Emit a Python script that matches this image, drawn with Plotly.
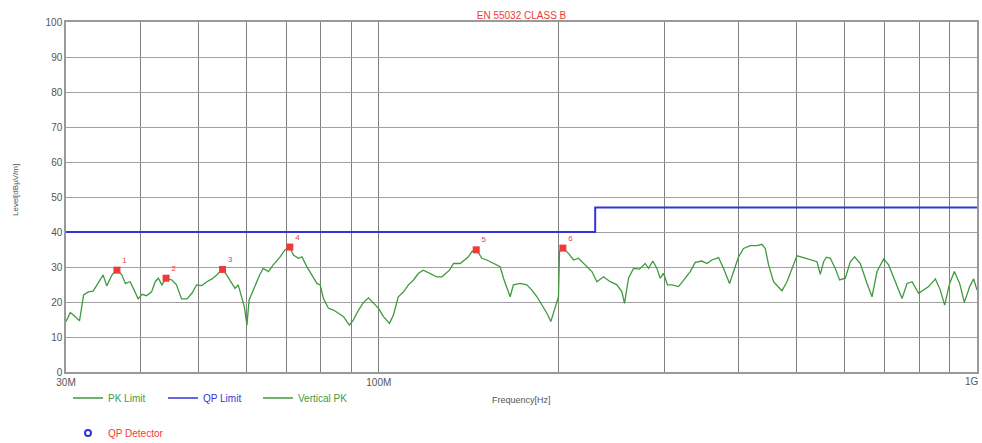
import plotly.graph_objects as go

# ---------------- data ----------------
freq_mhz = [30.0, 30.5, 31.1, 31.6, 32.1, 32.7, 33.3, 34.0, 34.6, 35.1, 35.8, 36.5, 37.2, 37.7, 38.4, 39.0,
            39.6, 40.2, 40.9, 41.7, 42.3, 42.8, 43.4, 44.1, 45.1, 45.9, 46.8, 47.8, 48.7, 49.6, 50.6, 51.6,
            52.6, 53.6, 54.8, 55.7, 56.8, 57.5, 58.2, 59.0, 59.6, 60.2, 60.7, 61.7, 62.5, 63.2, 64.1, 65.4,
            66.6, 68.4, 69.7, 70.9, 72.0, 73.4, 74.4, 75.8, 77.3, 78.8, 79.8, 80.8, 82.4, 84.0, 85.6, 87.3,
            89.3, 90.7, 92.5, 94.3, 96.1, 98.0, 99.9, 101.8, 104.2, 105.8, 107.8, 110.0, 112.1, 114.3, 116.5,
            118.7, 121.9, 125.0, 127.5, 131.3, 133.3, 136.8, 141.2, 143.1, 145.5, 148.7, 151.6, 155.5, 159.5,
            161.6, 163.7, 165.8, 167.9, 172.3, 176.8, 180.3, 183.8, 187.3, 191.0, 193.9, 197.2, 199.7, 200.5,
            203.1, 207.5, 211.6, 215.7, 221.3, 227.1, 231.5, 237.5, 243.7, 250.1, 254.9, 257.5, 261.5, 266.6,
            272.8, 278.8, 282.4, 287.2, 291.7, 295.4, 299.2, 303.8, 309.0, 317.0, 325.3, 331.6, 338.1, 346.9,
            353.6, 360.5, 369.8, 377.0, 385.8, 391.7, 399.4, 407.2, 417.8, 428.7, 437.0, 442.6, 448.3, 457.0,
            465.9, 472.0, 481.2, 490.6, 500.1, 513.0, 529.9, 540.2, 547.1, 554.1, 559.9, 568.6, 579.6, 589.3,
            602.3, 614.1, 624.4, 638.2, 654.9, 667.6, 680.6, 698.1, 711.7, 730.3, 749.4, 763.9, 778.8, 798.8,
            814.4, 830.2, 851.9, 868.4, 882.9, 900.1, 916.5, 935.4, 952.5, 972.2, 987.2, 1000.0]

level_db = [14.4, 17.0, 15.8, 14.6, 22.0, 22.9, 23.1, 25.8, 27.7, 24.6, 27.7, 29.3, 27.7, 25.3, 25.8, 23.4,
            20.9, 22.2, 21.8, 22.9, 25.8, 26.8, 24.9, 26.8, 26.3, 24.9, 20.9, 20.9, 22.5, 24.9, 24.7, 25.8,
            26.6, 27.7, 29.4, 27.7, 25.3, 23.9, 24.9, 21.0, 18.7, 13.4, 20.6, 23.4, 25.8, 27.7, 29.6, 28.7,
            30.6, 32.9, 34.9, 35.8, 33.4, 32.5, 32.9, 30.1, 27.7, 25.3, 24.9, 21.0, 18.2, 17.7, 16.8, 15.8,
            13.4, 14.9, 17.7, 19.9, 21.2, 19.6, 18.2, 15.8, 13.9, 16.3, 21.5, 22.9, 24.9, 26.3, 28.2,
            29.1, 28.2, 27.2, 27.2, 29.1, 31.0, 31.0, 32.9, 34.4, 35.1, 32.5, 32.0, 31.0, 30.1,
            26.8, 24.4, 21.5, 24.9, 25.3, 24.9, 23.4, 21.5, 19.1, 16.8, 14.4, 18.2, 21.5, 34.4,
            35.5, 33.9, 32.0, 32.5, 30.6, 28.7, 25.8, 27.2, 25.8, 24.9, 22.9, 19.6, 26.8, 29.6,
            29.4, 31.0, 29.6, 31.7, 29.6, 26.8, 28.2, 24.9, 24.9, 24.4, 26.8, 28.7, 31.3, 31.7,
            31.0, 32.0, 32.7, 29.6, 25.3, 28.7, 32.9, 35.3, 36.1, 36.1, 36.5, 35.3, 30.6, 25.8,
            24.4, 23.2, 25.8, 29.6, 33.2, 32.7, 32.0, 31.5, 27.9, 31.5, 32.8, 32.5, 29.6, 26.3,
            26.8, 31.5, 32.9, 31.0, 25.3, 21.5, 28.7, 32.3, 30.6, 25.8, 21.0, 25.3, 25.8, 22.5,
            23.4, 24.4, 26.6, 23.4, 19.1, 25.3, 28.7, 25.3, 19.9, 24.4, 26.6, 23.4]

qp_limit_mhz = [30, 230, 230, 1000]
qp_limit_db = [40, 40, 47, 47]

peak_mhz = [36.5, 44.1, 54.8, 71.0, 145.5, 203.1]
peak_db = [29.1, 26.8, 29.3, 35.7, 34.9, 35.4]
peak_labels = ["1", "2", "3", "4", "5", "6"]

grid_mhz = [30, 40, 50, 60, 70, 80, 90, 100, 200, 300, 400, 500, 600, 700, 800, 900, 1000]
grid_text = {30: "30M", 100: "100M"}
end_label = "1G"
y_ticks = [0, 10, 20, 30, 40, 50, 60, 70, 80, 90, 100]

# ---------------- figure ----------------
GREEN = "#3f9a3f"
BLUE = "#3434d8"
RED = "#f03a3a"
W, H = 982, 443
ML, MR, MT, MB = 66, 5, 22, 71
PH = H - MT - MB
PW = W - ML - MR

fig = go.Figure()

fig.add_trace(go.Scatter(
    x=[f * 1e6 for f in freq_mhz], y=level_db, mode="lines",
    line=dict(color=GREEN, width=1.3), showlegend=False, hoverinfo="skip"))

fig.add_trace(go.Scatter(
    x=[f * 1e6 for f in qp_limit_mhz], y=qp_limit_db, mode="lines",
    line=dict(color=BLUE, width=2), showlegend=False, hoverinfo="skip"))

fig.add_trace(go.Scatter(
    x=[f * 1e6 for f in peak_mhz], y=peak_db, mode="markers+text",
    marker=dict(symbol="square", size=7, color=RED),
    text=peak_labels, textposition="top right",
    textfont=dict(color=RED, size=8, family="Liberation Sans"),
    showlegend=False, hoverinfo="skip"))

# legend-only entries
fig.add_trace(go.Scatter(x=[None], y=[None], mode="lines", line=dict(color=GREEN, width=1.5),
                         name=f"<span style='color:{GREEN}'>PK Limit</span>", legend="legend"))
fig.add_trace(go.Scatter(x=[None], y=[None], mode="lines", line=dict(color=BLUE, width=1.5),
                         name=f"<span style='color:{BLUE}'>QP Limit</span>", legend="legend"))
fig.add_trace(go.Scatter(x=[None], y=[None], mode="lines", line=dict(color=GREEN, width=1.5),
                         name=f"<span style='color:{GREEN}'>Vertical PK</span>", legend="legend"))
fig.add_trace(go.Scatter(x=[None], y=[None], mode="markers",
                         marker=dict(symbol="circle-open", size=6, color=BLUE, line=dict(width=2)),
                         name=f"<span style='color:{RED}'>QP Detector</span>", legend="legend2"))

fig.update_layout(
    width=W, height=H,
    margin=dict(l=ML, r=MR, t=MT, b=MB, autoexpand=False),
    paper_bgcolor="white", plot_bgcolor="white",
    font=dict(family="Liberation Sans", size=10, color="#555555"),
    title=dict(text="EN 55032 CLASS B", x=0.5, xref="paper", xanchor="center",
               yref="container", y=1 - 15 / H, yanchor="middle", font=dict(color=RED, size=10)),
    legend=dict(orientation="h", xref="container", x=68 / W, xanchor="left",
                yref="container", y=1 - 398 / H, yanchor="middle",
                itemwidth=30, entrywidth=50, font=dict(size=10),
                bgcolor="rgba(0,0,0,0)"),
    legend2=dict(orientation="h", xref="container", x=68 / W, xanchor="left",
                 yref="container", y=1 - 433 / H, yanchor="middle",
                 itemwidth=30, font=dict(size=10), bgcolor="rgba(0,0,0,0)"),
    xaxis=dict(
        type="log", range=[7.47712, 9.0], automargin=False,
        tickmode="array", tickvals=[f * 1e6 for f in grid_mhz],
        ticktext=[grid_text.get(f, "") for f in grid_mhz],
        ticks="", showgrid=True, gridcolor="#808080", gridwidth=1,
        showline=True, linecolor="#9a9a9a", linewidth=1.5, mirror=True,
        tickfont=dict(size=10, color="#555555"),
        zeroline=False),
    yaxis=dict(
        range=[0, 100], tickmode="array", tickvals=y_ticks, automargin=False,
        ticks="", showgrid=True, gridcolor="#a0a0a0", gridwidth=1.2,
        showline=True, linecolor="#9a9a9a", linewidth=1.5, mirror=True,
        tickfont=dict(size=10, color="#555555"),
        zeroline=False),
    annotations=[
        dict(text=end_label, xref="paper", x=(981 - ML) / PW, xanchor="right",
             yref="paper", y=(372 - 382) / PH, yanchor="middle",
             showarrow=False, font=dict(size=10, color="#555555")),
        dict(text="Frequency[Hz]", xref="paper", x=0.5, xanchor="center",
             yref="paper", y=(372 - 400) / PH, yanchor="middle",
             showarrow=False, font=dict(size=9, color="#555555")),
        dict(text="Level[dBµV/m]", xref="paper", x=(15 - ML) / PW, xanchor="center",
             yref="paper", y=(372 - 190) / PH, yanchor="middle", textangle=-90,
             showarrow=False, font=dict(size=8, color="#555555")),
    ],
)

fig.write_html("out.html", config={"displayModeBar": False},
               post_script="document.body.style.margin='0';document.body.style.overflow='hidden';")
